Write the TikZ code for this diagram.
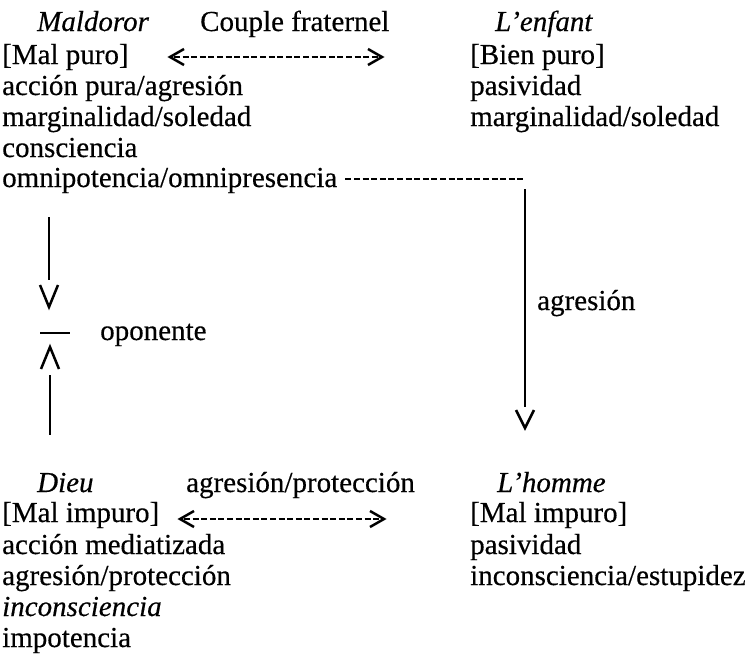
\documentclass[tikz,border=0pt]{standalone}
\usepackage{fontspec}
\setmainfont{Liberation Serif}[FakeBold=0.4]
\usetikzlibrary{calc}
\begin{document}
\begin{tikzpicture}[x=1pt,y=-1pt,
  txt/.style={anchor=base west, inner sep=0pt, font=\fontsize{29}{31}\selectfont},
  ital/.style={anchor=base west, inner sep=0pt, font=\fontsize{29}{31}\selectfont\itshape},
  dashline/.style={line width=2.8pt, dash pattern=on 6pt off 2.6pt},
  solidline/.style={line width=2.6pt},
  chev/.style={line width=2.5pt, line join=miter}]
\useasboundingbox (0,0) rectangle (751,654);
% top left: Maldoror
\node[ital] (m0) at (37,31) {Maldoror};
\node[txt] (m1) at (2,64) {[Mal puro]};
\node[txt] (m2) at (2,95) {acción pura/agresión};
\node[txt] (m3) at (2,126) {marginalidad/soledad};
\node[txt] (m4) at (2,157) {consciencia};
\node[txt] (m5) at (2,187) {omnipotencia/omnipresencia};
\node[txt] (cf) at (200,31) {Couple fraternel};
% top right: L'enfant
\node[ital] (e0) at (495,31) {L’enfant};
\node[txt] (e1) at (470,64) {[Bien puro]};
\node[txt] (e2) at (470,95) {pasividad};
\node[txt] (e3) at (470,126) {marginalidad/soledad};
% bottom left: Dieu
\node[ital] (d0) at (37,492) {Dieu};
\node[txt] (d1) at (2,522) {[Mal impuro]};
\node[txt] (d2) at (2,554) {acción mediatizada};
\node[txt] (d3) at (2,585) {agresión/protección};
\node[ital] (d4) at (2,616) {inconsciencia};
\node[txt] (d5) at (2,647) {impotencia};
\node[txt] (ap) at (186,492) {agresión/protección};
% bottom right: L'homme
\node[ital] (h0) at (497,492) {L’homme};
\node[txt] (h1) at (470,522) {[Mal impuro]};
\node[txt] (h2) at (470,554) {pasividad};
\node[txt] (h3) at (470,585) {inconsciencia/estupidez};
% labels
\node[txt] (opl) at (100,340) {oponente};
\node[txt] (agl) at (537,310) {agresión};
% top double arrow (couple fraternel)
\coordinate (tl) at (170,57);
\coordinate (tr) at (382,57);
\draw[dashline] ($(tl)+(4,0)$) -- ($(tr)+(-4,0)$);
\draw[chev] ($(tl)+(14,-8)$) -- (tl) -- ($(tl)+(14,8)$);
\draw[chev] ($(tr)+(-14,-8)$) -- (tr) -- ($(tr)+(-14,8)$);
% bottom double arrow (agresion/proteccion)
\coordinate (bl) at (180,519);
\coordinate (br) at (384,519);
\draw[dashline] ($(bl)+(4,0)$) -- ($(br)+(-4,0)$);
\draw[chev] ($(bl)+(14,-8)$) -- (bl) -- ($(bl)+(14,8)$);
\draw[chev] ($(br)+(-14,-8)$) -- (br) -- ($(br)+(-14,8)$);
% agresion: Maldoror -> L'homme
\coordinate (ra) at ($(m5.base east)+(8,-8)$);
\coordinate (rc) at (524,179);
\coordinate (rd) at (525,189);
\coordinate (rv) at (525,428);
\draw[dashline] (ra) -- (rc);
\draw[solidline] (rd) -- ($(rv)+(0,-21)$);
\draw[chev] ($(rv)+(-9,-18)$) -- (rv) -- ($(rv)+(9,-18)$);
% oponente: Maldoror -> | <- Dieu
\coordinate (la) at (49,217);
\coordinate (lv) at (49,307);
\coordinate (op) at (55,333);
\coordinate (lw) at (50,347);
\coordinate (lb) at (50,435);
\draw[solidline] (la) -- ($(lv)+(0,-27)$);
\draw[chev] ($(lv)+(-9,-22)$) -- (lv) -- ($(lv)+(9,-22)$);
\draw[line width=1.6pt] ($(op)+(-15,0)$) -- ($(op)+(15,0)$);
\draw[chev] ($(lw)+(-9,22)$) -- (lw) -- ($(lw)+(9,22)$);
\draw[solidline] ($(lw)+(0,28)$) -- (lb);
\end{tikzpicture}
\end{document}
